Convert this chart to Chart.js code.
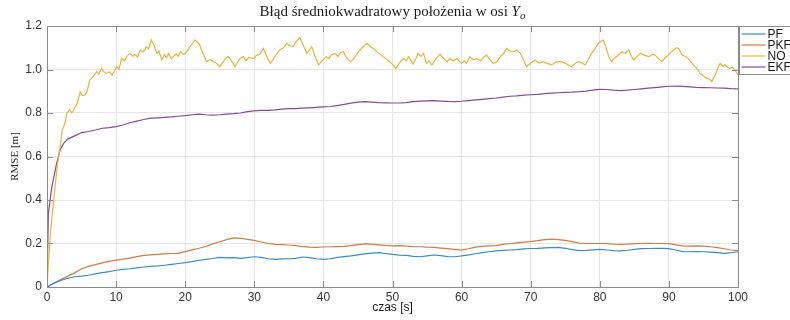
<!DOCTYPE html>
<html>
<head>
<meta charset="utf-8">
<script src="https://cdn.jsdelivr.net/npm/chart.js@4.4.1/dist/chart.umd.min.js"></script>
<style>
  html, body { margin: 0; padding: 0; background: #fff; }
  #wrap { width: 790px; height: 320px; }
</style>
</head>
<body>
<div id="wrap"><canvas id="c" width="790" height="320"></canvas></div>
<script>
// ---- Data ----
const seriesNames = ['PF', 'PKF', 'NO', 'EKF'];
const xTicks = [0, 10, 20, 30, 40, 50, 60, 70, 80, 90, 100];
const yTicks = [0, 0.2, 0.4, 0.6, 0.8, 1, 1.2];

const timeSec = [0,1,2,3,4,5,6,7,8,9,10,11,12,13,14,15,16,17,18,19,20,21,22,23,24,25,26,27,28,29,30,31,32,33,34,35,36,37,38,39,40,41,42,43,44,45,46,47,48,49,50,51,52,53,54,55,56,57,58,59,60,61,62,63,64,65,66,67,68,69,70,71,72,73,74,75,76,77,78,79,80,81,82,83,84,85,86,87,88,89,90,91,92,93,94,95,96,97,98,99,100];

const pfValues = [0,0.018,0.03,0.04,0.047,0.05,0.054,0.06,0.066,0.071,0.077,0.081,0.084,0.088,0.092,0.095,0.097,0.1,0.104,0.108,0.112,0.117,0.123,0.127,0.131,0.136,0.134,0.135,0.132,0.135,0.139,0.136,0.13,0.127,0.129,0.13,0.132,0.138,0.135,0.13,0.127,0.13,0.136,0.14,0.143,0.148,0.152,0.156,0.158,0.154,0.15,0.147,0.145,0.141,0.139,0.143,0.147,0.144,0.14,0.139,0.143,0.148,0.153,0.158,0.162,0.166,0.168,0.17,0.172,0.175,0.177,0.178,0.18,0.181,0.182,0.178,0.172,0.167,0.168,0.171,0.173,0.17,0.167,0.166,0.169,0.173,0.176,0.177,0.178,0.178,0.176,0.17,0.163,0.162,0.163,0.162,0.16,0.158,0.155,0.158,0.162];

const pkfValues = [0,0.017,0.034,0.05,0.065,0.084,0.095,0.103,0.111,0.118,0.124,0.128,0.133,0.14,0.145,0.148,0.15,0.152,0.154,0.155,0.163,0.171,0.178,0.186,0.198,0.208,0.218,0.226,0.224,0.219,0.214,0.207,0.2,0.196,0.195,0.193,0.19,0.186,0.183,0.182,0.184,0.185,0.186,0.187,0.19,0.195,0.198,0.197,0.194,0.191,0.189,0.19,0.188,0.186,0.185,0.183,0.182,0.179,0.176,0.173,0.17,0.176,0.183,0.187,0.189,0.19,0.196,0.2,0.203,0.206,0.209,0.213,0.218,0.22,0.218,0.214,0.209,0.202,0.2,0.2,0.2,0.199,0.197,0.196,0.197,0.199,0.2,0.201,0.2,0.2,0.199,0.194,0.189,0.188,0.189,0.188,0.185,0.181,0.176,0.17,0.167];

const ekfTime = [0,0.2,0.7,1.4,1.9,2.4,3,4,5,6,7,8,9,10,11,12,13,14,15,16,17,18,19,20,21,22,23,24,25,26,27,28,29,30,31,32,33,34,35,36,37,38,39,40,41,42,43,44,45,46,47,48,49,50,51,52,53,54,55,56,57,58,59,60,61,62,63,64,65,66,67,68,69,70,71,72,73,74,75,76,77,78,79,80,81,82,83,84,85,86,87,88,89,90,91,92,93,94,95,96,97,98,99,100];
const ekfValues = [0,0.34,0.46,0.57,0.63,0.66,0.68,0.695,0.71,0.715,0.722,0.73,0.733,0.737,0.745,0.755,0.763,0.77,0.776,0.778,0.78,0.782,0.785,0.788,0.792,0.795,0.792,0.79,0.792,0.795,0.797,0.8,0.806,0.81,0.812,0.812,0.814,0.818,0.82,0.82,0.822,0.824,0.826,0.828,0.83,0.834,0.84,0.845,0.85,0.852,0.85,0.848,0.847,0.846,0.846,0.848,0.852,0.855,0.856,0.857,0.855,0.853,0.852,0.854,0.857,0.86,0.863,0.866,0.869,0.873,0.877,0.879,0.882,0.884,0.886,0.889,0.891,0.893,0.895,0.896,0.898,0.901,0.905,0.909,0.908,0.905,0.903,0.905,0.908,0.911,0.914,0.917,0.92,0.923,0.924,0.922,0.92,0.918,0.917,0.916,0.915,0.914,0.912,0.911];

const noTime = [0,0.43,0.8,1.16,1.5,1.9,2.2,2.6,2.9,3.3,3.6,3.8,4.1,4.3,4.6,4.8,5.1,5.5,5.8,6.2,6.6,7.2,7.5,7.9,8.2,8.6,9.0,9.4,9.7,10.1,10.4,10.8,11.2,11.6,12,12.4,12.7,13.1,13.5,13.9,14.4,14.7,15.1,15.5,15.9,16.2,16.6,17.0,17.3,17.6,18.0,18.3,18.7,19.0,19.3,19.7,20,20.4,20.7,21.1,21.4,21.8,22.1,22.6,23.1,23.6,24.1,24.6,25,25.4,25.8,26.2,26.6,27.2,27.5,27.9,28.4,28.8,29.2,29.9,30.3,30.8,31.3,31.8,32.3,32.7,33.2,33.7,34.2,34.7,35.1,35.6,36.1,36.6,37.1,37.6,38.0,38.3,38.8,39.3,39.8,40.4,40.8,41.2,41.7,42.1,42.5,42.9,43.4,43.9,44.4,44.8,45.1,45.6,46.3,46.8,47.2,47.8,48.4,49.0,49.6,50.1,50.5,51.0,51.6,52.0,52.3,52.7,53,53.4,53.7,54.1,54.5,54.9,55.3,55.7,56.3,56.9,57.4,57.9,58.3,58.8,59.3,59.7,60,60.4,60.7,61.2,61.7,62.2,62.8,63.2,63.6,64.1,64.6,65.1,65.6,66.1,66.5,67.0,67.5,68.0,68.5,69.0,69.4,70.0,70.6,71.2,71.8,72.4,73,73.7,74.5,75.2,75.9,76.5,77.1,77.5,77.9,78.3,78.8,79.3,79.8,80.2,80.5,81,81.3,81.7,82.0,82.4,82.8,83.2,83.7,84.2,84.6,84.9,85.4,85.9,86.5,87.1,87.6,88,88.5,89,89.5,89.9,90.3,90.7,91.1,91.4,91.9,92.4,92.8,93.3,93.8,94.2,94.5,95.0,95.5,95.9,96.2,96.7,97.0,97.4,97.8,98.1,98.5,98.8,99.2,99.5,99.8,100];
const noValues = [0,0.216,0.35,0.46,0.56,0.645,0.72,0.754,0.8,0.814,0.8,0.81,0.83,0.837,0.87,0.898,0.88,0.883,0.9,0.952,0.965,0.99,0.98,1.005,0.99,0.982,0.99,0.975,0.99,1.013,1.0,1.05,1.04,1.062,1.074,1.06,1.07,1.058,1.09,1.08,1.105,1.095,1.136,1.11,1.074,1.085,1.044,1.068,1.055,1.074,1.05,1.06,1.072,1.06,1.082,1.07,1.074,1.09,1.105,1.12,1.136,1.125,1.113,1.07,1.036,1.045,1.036,1.028,1.013,1.03,1.05,1.059,1.045,1.013,1.028,1.05,1.059,1.04,1.055,1.05,1.065,1.07,1.097,1.06,1.028,1.045,1.07,1.09,1.1,1.12,1.11,1.105,1.13,1.147,1.11,1.074,1.09,1.105,1.06,1.021,1.04,1.059,1.05,1.068,1.074,1.06,1.078,1.082,1.05,1.036,1.05,1.07,1.082,1.1,1.12,1.105,1.097,1.08,1.065,1.05,1.036,1.02,1.005,1.03,1.05,1.04,1.059,1.04,1.025,1.05,1.074,1.06,1.074,1.028,1.04,1.021,1.05,1.07,1.05,1.036,1.05,1.04,1.05,1.038,1.028,1.04,1.028,1.059,1.045,1.05,1.04,1.058,1.066,1.045,1.028,1.036,1.059,1.075,1.097,1.085,1.082,1.09,1.074,1.04,1.013,1.03,1.044,1.03,1.036,1.028,1.021,1.035,1.036,1.025,1.013,1.03,1.036,1.028,1.021,1.045,1.074,1.095,1.12,1.13,1.136,1.09,1.06,1.036,1.05,1.059,1.07,1.082,1.075,1.09,1.06,1.044,1.06,1.074,1.065,1.059,1.07,1.066,1.05,1.036,1.055,1.066,1.08,1.09,1.1,1.097,1.066,1.06,1.05,1.03,1.013,1.0,0.982,0.97,0.959,0.955,0.944,0.975,1.0,1.028,1.015,1.021,1.01,1.005,1.01,0.997,0.985,0.975];

const seriesColors = ['#3a8cc1', '#d47a45', '#e5b53e', '#864a94'];

const titleMain = 'Błąd średniokwadratowy położenia w osi ';
const titleVar = 'Y';
const titleSub = 'o';
const xTitle = 'czas [s]';
const yTitle = 'RMSE [m]';

function pts(xs, ys) { return xs.map((t, i) => ({ x: t, y: ys[i] })); }

const datasets = [
  { label: seriesNames[0], data: pts(timeSec, pfValues) },
  { label: seriesNames[1], data: pts(timeSec, pkfValues) },
  { label: seriesNames[2], data: pts(noTime, noValues) },
  { label: seriesNames[3], data: pts(ekfTime, ekfValues) }
].map((d, i) => Object.assign(d, {
  borderColor: seriesColors[i],
  backgroundColor: seriesColors[i],
  borderWidth: 1.2,
  pointRadius: 0,
  tension: 0,
  fill: false
}));

const decor = {
  id: 'decor',
  afterDraw(chart) {
    const { ctx, chartArea: a, scales: { x, y } } = chart;
    ctx.save();
    // axes box
    ctx.strokeStyle = '#8a8a8a';
    ctx.lineWidth = 1;
    ctx.strokeRect(Math.round(a.left) + 0.5, Math.round(a.top) + 0.5,
      Math.round(a.right - a.left), Math.round(a.bottom - a.top));
    // inward tick marks (MATLAB style)
    ctx.beginPath();
    xTicks.forEach(v => {
      const px = Math.round(x.getPixelForValue(v)) + 0.5;
      ctx.moveTo(px, a.bottom); ctx.lineTo(px, a.bottom - 6);
      ctx.moveTo(px, a.top); ctx.lineTo(px, a.top + 6);
    });
    yTicks.forEach(v => {
      const py = Math.round(y.getPixelForValue(v)) + 0.5;
      ctx.moveTo(a.left, py); ctx.lineTo(a.left + 6, py);
      ctx.moveTo(a.right, py); ctx.lineTo(a.right - 6, py);
    });
    ctx.stroke();

    // title with italic variable and subscript
    ctx.fillStyle = '#1a1a1a';
    ctx.textBaseline = 'alphabetic';
    ctx.textAlign = 'left';
    const fMain = '15px "Liberation Serif", "DejaVu Serif", serif';
    const fVar = 'italic 15px "Liberation Serif", "DejaVu Serif", serif';
    const fSub = 'italic 11px "Liberation Serif", "DejaVu Serif", serif';
    ctx.font = fMain; const w1 = ctx.measureText(titleMain).width;
    ctx.font = fVar; const w2 = ctx.measureText(titleVar).width;
    ctx.font = fSub; const w3 = ctx.measureText(titleSub).width;
    const total = w1 + w2 + w3;
    let tx = (a.left + a.right) / 2 - total / 2;
    const ty = 16;
    ctx.font = fMain; ctx.fillText(titleMain, tx, ty); tx += w1;
    ctx.font = fVar; ctx.fillText(titleVar, tx, ty); tx += w2;
    ctx.font = fSub; ctx.fillText(titleSub, tx, ty + 3);

    // legend box
    const lx = Math.round(a.right) + 1.5, ly = Math.round(a.top) + 0.5;
    ctx.fillStyle = '#ffffff';
    ctx.fillRect(lx, ly, 60, 48);
    ctx.strokeStyle = '#8a8a8a';
    ctx.strokeRect(lx, ly, 60, 48);
    ctx.font = '12px "Liberation Sans", Arial, sans-serif';
    ctx.textBaseline = 'middle';
    seriesNames.forEach((name, i) => {
      const cy = ly + 7.5 + i * 11;
      ctx.strokeStyle = seriesColors[i];
      ctx.lineWidth = 1.2;
      ctx.beginPath(); ctx.moveTo(lx + 2, cy); ctx.lineTo(lx + 26, cy); ctx.stroke();
      ctx.fillStyle = '#1a1a1a';
      ctx.fillText(name, lx + 28, cy + 0.5);
    });
    ctx.restore();
  }
};

new Chart(document.getElementById('c'), {
  type: 'line',
  data: { datasets },
  options: {
    responsive: false,
    animation: false,
    parsing: true,
    layout: { padding: { top: 26, right: 52, left: 0, bottom: 0 } },
    plugins: { legend: { display: false }, title: { display: false }, tooltip: { enabled: false } },
    scales: {
      x: {
        type: 'linear', min: 0, max: 100,
        afterBuildTicks: s => { s.ticks = xTicks.map(v => ({ value: v })); },
        afterFit: s => { s.height = 33; },
        grid: { color: '#e6e6e6', drawTicks: false },
        border: { display: true, color: '#8a8a8a' },
        ticks: { padding: 3, color: '#333333', font: { family: '"Liberation Sans", Arial, sans-serif', size: 12 }, maxRotation: 0 },
        title: { display: true, text: xTitle, color: '#1a1a1a', padding: { top: 0, bottom: 5 },
          font: { family: '"Liberation Sans", Arial, sans-serif', size: 12 } }
      },
      y: {
        type: 'linear', min: 0, max: 1.2,
        afterBuildTicks: s => { s.ticks = yTicks.map(v => ({ value: v })); },
        afterFit: s => { s.width = 47; },
        grid: { color: '#e6e6e6', drawTicks: false },
        border: { display: true, color: '#8a8a8a' },
        ticks: { padding: 5, color: '#333333', font: { family: '"Liberation Sans", Arial, sans-serif', size: 12 } },
        title: { display: true, text: yTitle, color: '#262626', padding: { top: 9, bottom: 0 },
          font: { family: '"Liberation Serif", serif', size: 11 } }
      }
    }
  },
  plugins: [decor]
});
</script>
</body>
</html>
